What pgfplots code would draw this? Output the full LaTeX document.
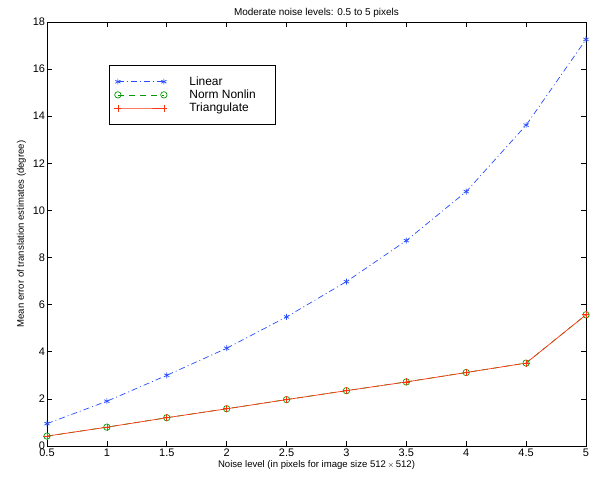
\documentclass[border=0pt]{standalone}
\usepackage{pgfplots}
\pgfplotsset{compat=1.18}
\usepackage{fontspec}
\setmainfont{Liberation Sans}
\definecolor{mblue}{rgb}{0.15,0.3,1}
\definecolor{mgreen}{rgb}{0,0.6,0}
\definecolor{mred}{rgb}{1,0.2,0.05}
\begin{document}
\begin{tikzpicture}
\path (-47bp,-33bp) rectangle (548bp,446bp);
\begin{axis}[
  at={(0,0)}, anchor=south west,
  scale only axis, width=539bp, height=424bp,
  xmin=0.5, xmax=5, ymin=0, ymax=18,
  xtick={0.5,1,...,5}, ytick={0,2,...,18},
  xticklabels={0.5,1,1.5,2,2.5,3,3.5,4,4.5,5},
  tick align=inside, tick pos=both,
  major tick length=5bp,
  tick style={black, line width=0.6pt},
  axis line style={line width=0.8pt},
  /pgf/number format/assume math mode=true,
  ticklabel style={font=\fontsize{11}{12}\selectfont},
  xticklabel style={yshift=1bp},
  yticklabel style={xshift=1.5bp},
  label style={font=\fontsize{9.6}{11}\selectfont},
  xlabel={Noise level (in pixels for image size 512\,{\fontsize{8}{9}\selectfont$\times$}\,512)},
  ylabel={Mean error of translation estimates (degree)},
  xlabel style={yshift=3bp},
  ylabel style={yshift=0bp},
  title={Moderate noise levels: 0.5 to 5 pixels},
  title style={font=\fontsize{10}{11}\selectfont, yshift=-5bp},
  legend cell align=left,
  legend style={at={(0.115,0.898)}, anchor=north west, font=\fontsize{12}{13}\selectfont,
    line width=0.8pt, inner xsep=5bp, inner ysep=9bp, row sep=-1bp,
    /tikz/every odd column/.append style={column sep=20bp}},
  legend image code/.code={\draw[mark repeat=2,mark phase=1] plot coordinates {(0bp,0bp) (23bp,0bp) (46bp,0bp)};},
]
\addplot[mblue, line width=0.7pt, dash pattern=on 6bp off 3bp on 1bp off 3bp, mark=asterisk, mark size=3bp, mark options={solid, line width=0.7pt}]
  coordinates {(0.5,0.95) (1,1.9) (1.5,3.0) (2,4.15) (2.5,5.48) (3,6.98) (3.5,8.72) (4,10.8) (4.5,13.62) (5,17.26)};
\addlegendentry{Linear}
\addplot[draw=mgreen, line width=0.7pt, dash pattern=on 6bp off 5bp, mark=o, mark size=3.2bp, mark options={solid, draw=mgreen, line width=0.7pt}]
  coordinates {(0.5,0.42) (1,0.8) (1.5,1.2) (2,1.58) (2.5,1.97) (3,2.35) (3.5,2.72) (4,3.12) (4.5,3.52) (5,5.57)};
\addlegendentry{Norm Nonlin\rule{13bp}{0pt}}
\addplot[mred, line width=0.7pt, mark=+, mark size=3.5bp, mark options={solid, line width=0.7pt}]
  coordinates {(0.5,0.42) (1,0.8) (1.5,1.2) (2,1.58) (2.5,1.97) (3,2.35) (3.5,2.72) (4,3.12) (4.5,3.52) (5,5.57)};
\addlegendentry{Triangulate}
\end{axis}
\end{tikzpicture}
\end{document}
